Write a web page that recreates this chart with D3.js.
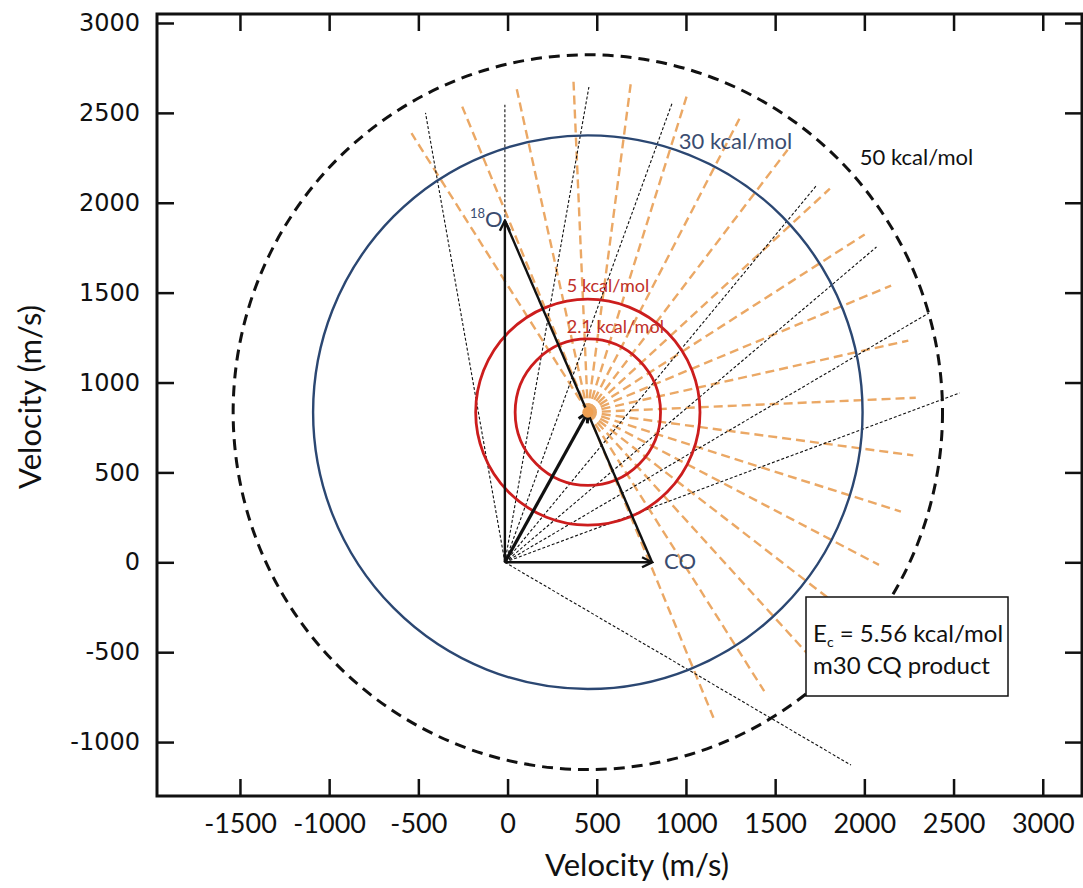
<!DOCTYPE html>
<html>
<head>
<meta charset="utf-8">
<script src="https://cdn.jsdelivr.net/npm/d3@7"></script>
<style>
  html, body { margin: 0; padding: 0; background: #ffffff; }
  svg { display: block; }
</style>
</head>
<body>
<svg id="chart" width="1083" height="888"></svg>
<script>
// ---- Newton diagram data (velocities in m/s) ----
const xTicks = [-1500, -1000, -500, 0, 500, 1000, 1500, 2000, 2500, 3000];
const yTicks = [-1000, -500, 0, 500, 1000, 1500, 2000, 2500, 3000];

const labOrigin = [-15, 0];
const oxygenTip = [-15, 1900];     // 18O beam velocity
const coTip = [810, 0];            // CO beam velocity
const centerOfMass = [450, 835];   // centre-of-mass velocity

// Energy circles (kcal/mol) and the calibration used to convert to speed
const energyLevels = [2.1, 5, 30, 50];
const energyLabels = ["2.1 kcal/mol", "5 kcal/mol", "30 kcal/mol", "50 kcal/mol"];
const calibEnergy = 30;            // kcal/mol
const calibSpeed = 1540;           // m/s in the c.m. frame

// Centre-of-mass scattering directions (degrees) and ray length (m/s)
const rayAngles = [122.5, 112.5, 102.5, 92.5, 82.5, 72.5, 62.5, 52.5, 42.5, 32.5,
                   22.5, 12.5, 2.5, -7.5, -17.5, -27.5, -37.5, -47.5, -57.5, -67.5];
const rayLength = 1840;

// Laboratory detection directions (end points of lines from the lab origin)
const labDirEndX = [-460, -15, 456, 925, 1729, 2068, 2362, 2535, 1925];
const labDirEndY = [2500, 2545, 2644, 2561, 2093, 1754, 1387, 942, -1128];

const noteLine2 = "m30 CQ product";
const collisionEnergy = "5.56 kcal/mol";

// ---- drawing ----
const svg = d3.select("#chart");
const W = 1083, H = 888;
const plot = { left: 157, top: 14, right: 1082, bottom: 796 };

const x = d3.scaleLinear().domain([-1965, 3220]).range([plot.left, plot.right]);
const y = d3.scaleLinear().domain([-1300, 3050]).range([plot.bottom, plot.top]);
const speed = d3.scaleSqrt().domain([0, calibEnergy]).range([0, calibSpeed]);

const sansUI = "Lato, 'Open Sans', sans-serif";
const plainNumber = d => String(d);   // keeps an ASCII hyphen for negatives

svg.append("rect").attr("width", W).attr("height", H).attr("fill", "#fff");

const defs = svg.append("defs");
defs.append("clipPath").attr("id", "plotClip")
  .append("rect")
  .attr("x", plot.left).attr("y", plot.top)
  .attr("width", plot.right - plot.left).attr("height", plot.bottom - plot.top);

function arrowMarker(id, w) {
  defs.append("marker")
    .attr("id", id)
    .attr("viewBox", "-12 -7 14 14")
    .attr("refX", 0).attr("refY", 0)
    .attr("markerUnits", "userSpaceOnUse")
    .attr("markerWidth", 14).attr("markerHeight", 14)
    .attr("orient", "auto")
    .append("path")
    .attr("d", "M-10,-5 L0,0 L-10,5")
    .attr("fill", "none")
    .attr("stroke", "#111")
    .attr("stroke-width", w)
    .attr("stroke-linejoin", "miter");
}
arrowMarker("head", 2.4);
arrowMarker("headBold", 3);

const g = svg.append("g").attr("clip-path", "url(#plotClip)");

// c.m. scattering rays
const cmX = x(centerOfMass[0]), cmY = y(centerOfMass[1]);
g.append("g").selectAll("line").data(rayAngles).join("line")
  .attr("x1", cmX).attr("y1", cmY)
  .attr("x2", a => x(centerOfMass[0] + rayLength * Math.cos(a * Math.PI / 180)))
  .attr("y2", a => y(centerOfMass[1] + rayLength * Math.sin(a * Math.PI / 180)))
  .attr("stroke", "#eba865")
  .attr("stroke-width", 2.4)
  .attr("stroke-dasharray", "9,5");

// lab-frame detection lines
const labDirs = labDirEndX.map((vx, i) => [vx, labDirEndY[i]]);
g.append("g").selectAll("line").data(labDirs).join("line")
  .attr("x1", x(labOrigin[0])).attr("y1", y(labOrigin[1]))
  .attr("x2", d => x(d[0])).attr("y2", d => y(d[1]))
  .attr("stroke", "#111")
  .attr("stroke-width", 1.1)
  .attr("stroke-dasharray", "3,2");

// energy circles around the c.m. velocity
const circleStyle = [
  { stroke: "#cc1d1d", width: 2.8, dash: null },
  { stroke: "#cc1d1d", width: 2.8, dash: null },
  { stroke: "#2b4772", width: 2.4, dash: null },
  { stroke: "#111111", width: 3, dash: "11,7" }
];
g.append("g").selectAll("ellipse").data(energyLevels).join("ellipse")
  .attr("cx", cmX).attr("cy", cmY)
  .attr("rx", e => x(centerOfMass[0] + speed(e)) - cmX)
  .attr("ry", e => cmY - y(centerOfMass[1] + speed(e)))
  .attr("fill", "none")
  .attr("stroke", (e, i) => circleStyle[i].stroke)
  .attr("stroke-width", (e, i) => circleStyle[i].width)
  .attr("stroke-dasharray", (e, i) => circleStyle[i].dash);

// beam vectors
const vec = g.append("g");
vec.append("line")
  .attr("x1", x(oxygenTip[0])).attr("y1", y(oxygenTip[1]))
  .attr("x2", x(coTip[0])).attr("y2", y(coTip[1]))
  .attr("stroke", "#111").attr("stroke-width", 2.4);
vec.append("line")
  .attr("x1", x(labOrigin[0])).attr("y1", y(labOrigin[1]))
  .attr("x2", x(oxygenTip[0])).attr("y2", y(oxygenTip[1]))
  .attr("stroke", "#111").attr("stroke-width", 2.4)
  .attr("marker-end", "url(#head)");
vec.append("line")
  .attr("x1", x(labOrigin[0])).attr("y1", y(labOrigin[1]))
  .attr("x2", x(coTip[0])).attr("y2", y(coTip[1]))
  .attr("stroke", "#111").attr("stroke-width", 2.4)
  .attr("marker-end", "url(#head)");
vec.append("line")
  .attr("x1", x(labOrigin[0])).attr("y1", y(labOrigin[1]))
  .attr("x2", x(centerOfMass[0])).attr("y2", y(centerOfMass[1]))
  .attr("stroke", "#111").attr("stroke-width", 3.2)
  .attr("marker-end", "url(#headBold)");

// c.m. point
g.append("circle").attr("cx", cmX).attr("cy", cmY).attr("r", 5.5).attr("fill", "#f0a052");

// vector labels
const oLabel = svg.append("text")
  .attr("x", x(oxygenTip[0]) - 35).attr("y", y(oxygenTip[1]) + 6)
  .attr("font-family", sansUI).attr("fill", "#3a4c70");
oLabel.append("tspan").attr("font-size", 13).attr("dy", -9).text("18");
oLabel.append("tspan").attr("font-size", 22).attr("dy", 9).text("O");

svg.append("text")
  .attr("x", x(coTip[0]) + 12).attr("y", y(coTip[1]) + 7)
  .attr("font-family", sansUI).attr("font-size", 22).attr("fill", "#3a4c70")
  .text("CO");

// energy labels
const labelPos = [
  { dx: 116, dy: -79, size: 18, fill: "#c0302a" },
  { dx: 116, dy: -120, size: 18, fill: "#c0302a" },
  { dx: 228, dy: -263, size: 22, fill: "#3a4c70" },
  { dx: 409, dy: -247, size: 22, fill: "#111111" }
];
svg.append("g").selectAll("text").data(energyLabels).join("text")
  .attr("x", (d, i) => cmX + labelPos[i].dx - 137)
  .attr("y", (d, i) => cmY + labelPos[i].dy)
  .attr("font-family", sansUI)
  .attr("font-size", (d, i) => labelPos[i].size)
  .attr("fill", (d, i) => labelPos[i].fill)
  .text(d => d);

// note box
const note = svg.append("g");
note.append("rect")
  .attr("x", 806).attr("y", 597).attr("width", 202).attr("height", 99)
  .attr("fill", "#fff").attr("stroke", "#111").attr("stroke-width", 1.5);
const t1 = note.append("text").attr("x", 813).attr("y", 642)
  .attr("font-family", sansUI).attr("font-size", 24).attr("fill", "#111");
t1.append("tspan").text("E");
t1.append("tspan").attr("font-size", 14).attr("dy", 5).text("c");
t1.append("tspan").attr("dy", -5).text(" = " + collisionEnergy);
note.append("text").attr("x", 813).attr("y", 674)
  .attr("font-family", sansUI).attr("font-size", 24).attr("fill", "#111")
  .text(noteLine2);

// ---- axes with inward ticks on all four sides ----
const tickLen = 17;
const axisStyle = sel => {
  sel.select(".domain").remove();
  sel.selectAll(".tick line").attr("stroke", "#111").attr("stroke-width", 2.5);
};

svg.append("g").attr("transform", `translate(0,${plot.bottom})`)
  .call(d3.axisBottom(x).tickValues(xTicks).tickSize(-tickLen).tickPadding(18).tickFormat(plainNumber))
  .call(axisStyle)
  .call(s => s.selectAll("text").attr("font-family", sansUI).attr("font-size", 27).attr("fill", "#111"));

svg.append("g").attr("transform", `translate(0,${plot.top})`)
  .call(d3.axisTop(x).tickValues(xTicks).tickSize(-tickLen).tickFormat(""))
  .call(axisStyle);

svg.append("g").attr("transform", `translate(${plot.left},0)`)
  .call(d3.axisLeft(y).tickValues(yTicks).tickSize(-tickLen).tickPadding(17).tickFormat(plainNumber))
  .call(axisStyle)
  .call(s => s.selectAll("text").attr("font-family", "'DejaVu Sans', sans-serif").attr("font-size", 24).attr("fill", "#111"));

svg.append("g").attr("transform", `translate(${plot.right},0)`)
  .call(d3.axisRight(y).tickValues(yTicks).tickSize(-tickLen).tickFormat(""))
  .call(axisStyle);

// frame
svg.append("rect")
  .attr("x", plot.left).attr("y", plot.top)
  .attr("width", plot.right - plot.left).attr("height", plot.bottom - plot.top)
  .attr("fill", "none").attr("stroke", "#111").attr("stroke-width", 3);

// axis titles
svg.append("text")
  .attr("x", 637).attr("y", 876)
  .attr("text-anchor", "middle")
  .attr("font-family", sansUI).attr("font-size", 31).attr("fill", "#111")
  .text("Velocity (m/s)");
svg.append("text")
  .attr("transform", "translate(41,397) rotate(-90)")
  .attr("text-anchor", "middle")
  .attr("font-family", sansUI).attr("font-size", 31).attr("fill", "#111")
  .text("Velocity (m/s)");
</script>
</body>
</html>
